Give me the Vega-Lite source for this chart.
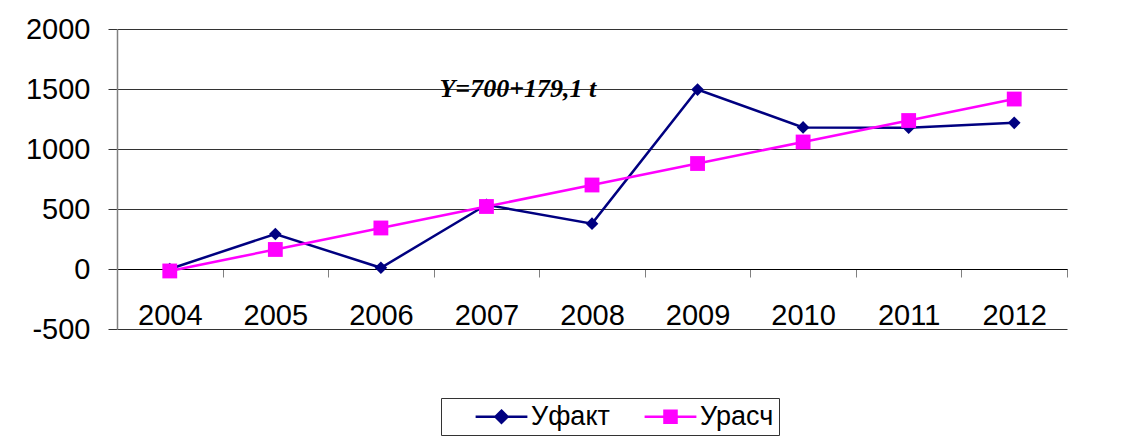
{
  "$schema": "https://vega.github.io/schema/vega-lite/v6.json",
  "width": 950,
  "height": 300,
  "autosize": "none",
  "padding": {"left": 117, "top": 29, "right": 57, "bottom": 108},
  "background": "white",
  "config": {
    "view": {"stroke": null},
    "font": "Liberation Sans"
  },
  "data": {
    "values": [
      {"year": "2004", "series": "Уфакт", "value": 0},
      {"year": "2005", "series": "Уфакт", "value": 292},
      {"year": "2006", "series": "Уфакт", "value": 10},
      {"year": "2007", "series": "Уфакт", "value": 535},
      {"year": "2008", "series": "Уфакт", "value": 378},
      {"year": "2009", "series": "Уфакт", "value": 1495},
      {"year": "2010", "series": "Уфакт", "value": 1180},
      {"year": "2011", "series": "Уфакт", "value": 1178},
      {"year": "2012", "series": "Уфакт", "value": 1218},
      {"year": "2004", "series": "Урасч", "value": -16.4},
      {"year": "2005", "series": "Урасч", "value": 162.7},
      {"year": "2006", "series": "Урасч", "value": 341.8},
      {"year": "2007", "series": "Урасч", "value": 520.9},
      {"year": "2008", "series": "Урасч", "value": 700},
      {"year": "2009", "series": "Урасч", "value": 879.1},
      {"year": "2010", "series": "Урасч", "value": 1058.2},
      {"year": "2011", "series": "Урасч", "value": 1237.3},
      {"year": "2012", "series": "Урасч", "value": 1416.4}
    ]
  },
  "encoding": {
    "x": {
      "field": "year",
      "type": "ordinal",
      "scale": {"type": "band", "paddingInner": 0, "paddingOuter": 0},
      "axis": {
        "orient": "bottom",
        "offset": -60,
        "title": null,
        "labelAngle": 0,
        "labelFont": "Liberation Sans",
        "labelFontSize": 29,
        "labelColor": "black",
        "domainColor": "black",
        "domainWidth": 1,
        "tickColor": "#808080",
        "tickSize": 8,
        "tickBand": "extent",
        "labelPadding": 24,
        "grid": false
      }
    },
    "y": {
      "field": "value",
      "type": "quantitative",
      "scale": {"domain": [-500, 2000], "nice": false, "zero": false},
      "axis": {
        "title": null,
        "values": [-500, 0, 500, 1000, 1500, 2000],
        "labelExpr": "'' + datum.value",
        "labelFont": "Liberation Sans",
        "labelFontSize": 29,
        "labelColor": "black",
        "domainColor": "#808080",
        "domainWidth": 1.5,
        "tickColor": "#333333",
        "tickSize": 9,
        "labelPadding": 18,
        "grid": true,
        "gridColor": "#333333",
        "gridOpacity": 1,
        "gridWidth": 1
      }
    },
    "color": {
      "field": "series",
      "type": "nominal",
      "scale": {"domain": ["Уфакт", "Урасч"], "range": ["#000080", "#FF00FF"]},
      "legend": {
        "orient": "none",
        "legendX": 324,
        "legendY": 369,
        "direction": "horizontal",
        "columns": 2,
        "title": null,
        "padding": 5,
        "strokeColor": "#333333",
        "fillColor": "white",
        "symbolSize": 196,
        "symbolOffset": 42,
        "symbolStrokeWidth": 2,
        "labelFont": "Liberation Sans",
        "labelFontSize": 27,
        "labelColor": "black",
        "labelOffset": 16,
        "columnPadding": 5,
        "labelExpr": "datum.value === 'Урасч' ? datum.label + '\u00a0\u00a0' : datum.label",
        "encode": {
          "symbols": {
            "update": {
              "shape": {"signal": "datum.value === 'Уфакт' ? 'M-3.7,0L3.7,0M0,-0.86L0.86,0L0,0.86L-0.86,0Z' : 'M-3.7,0L3.7,0M-0.86,-0.86L0.86,-0.86L0.86,0.86L-0.86,0.86Z'"},
              "fill": {"signal": "datum.value === 'Уфакт' ? '#000080' : '#FF00FF'"},
              "stroke": {"signal": "datum.value === 'Уфакт' ? '#000080' : '#FF00FF'"},
              "strokeWidth": {"value": 2.5},
              "opacity": {"value": 1},
              "fillOpacity": {"value": 1}
            }
          }
        }
      }
    }
  },
  "layer": [
    {"mark": {"type": "line", "strokeWidth": 2.5}},
    {
      "transform": [{"filter": "datum.series === 'Уфакт'"}],
      "mark": {"type": "point", "shape": "diamond", "filled": true, "opacity": 1, "size": 160}
    },
    {
      "transform": [{"filter": "datum.series === 'Урасч'"}],
      "mark": {"type": "point", "shape": "square", "filled": true, "opacity": 1, "size": 220}
    },
    {
      "data": {"values": [{"label": "Y=700+179,1 t", "year": "2007", "value": 1500}]},
      "mark": {
        "type": "text",
        "font": "Liberation Serif",
        "fontSize": 26,
        "fontStyle": "italic",
        "fontWeight": "bold",
        "align": "left",
        "baseline": "middle",
        "dx": -47,
        "color": "black"
      },
      "encoding": {
        "text": {"field": "label"},
        "color": null
      }
    }
  ]
}
